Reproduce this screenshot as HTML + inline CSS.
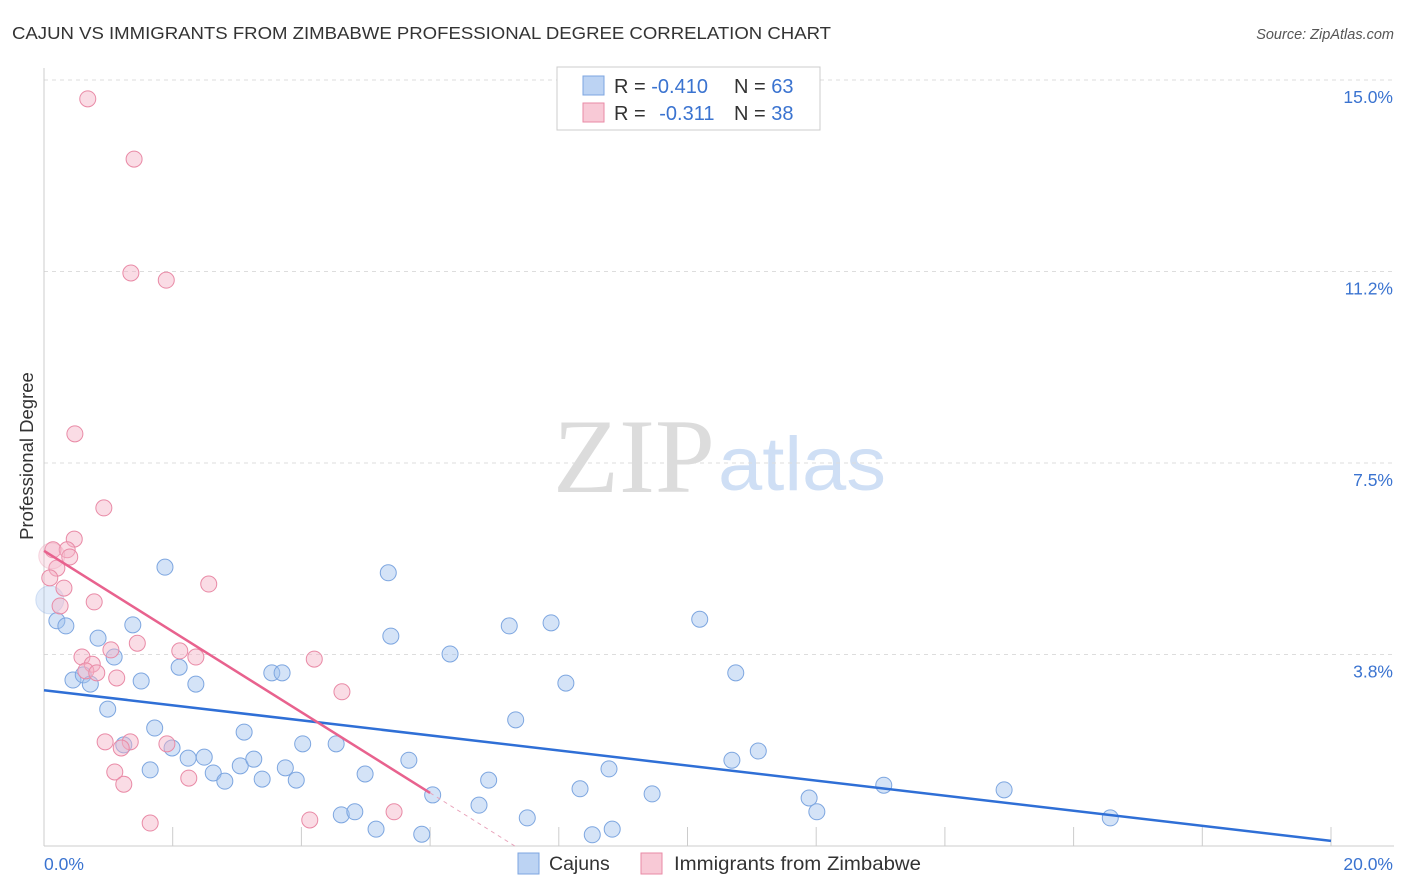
<!DOCTYPE html>
<html><head><meta charset="utf-8"><style>
body{margin:0;background:#fff;font-family:"Liberation Sans",sans-serif}
svg{display:block}
</style></head><body>
<svg id="c" width="1406" height="892">
<text x="12" y="39" font-size="17.5" fill="#333" textLength="819" lengthAdjust="spacingAndGlyphs">CAJUN VS IMMIGRANTS FROM ZIMBABWE PROFESSIONAL DEGREE CORRELATION CHART</text>
<text x="1394" y="39" font-size="14.5" fill="#555" font-style="italic" text-anchor="end">Source: ZipAtlas.com</text>
<text x="33" y="456" font-size="18.5" fill="#333" text-anchor="middle" transform="rotate(-90 33 456)">Professional Degree</text>
<g>
<text x="553" y="492" font-size="106" font-family="Liberation Serif,serif" fill="#dcdcdc" textLength="162" lengthAdjust="spacingAndGlyphs">ZIP</text>
<text x="718" y="490" font-size="76" fill="#cfdff5" textLength="168" lengthAdjust="spacingAndGlyphs">atlas</text>
</g>
<g id="grid"></g><g id="axes"></g><g id="pts"></g><g id="lines"></g>
<g>
<rect x="557" y="67" width="263" height="63" fill="#fff" stroke="#ccc"/>
<rect x="583" y="76" width="21" height="19" fill="#bcd3f3" stroke="#7da6e0"/>
<rect x="583" y="103" width="21" height="19" fill="#f8c9d6" stroke="#e98aa6"/>
<text x="614" y="93" font-size="20" fill="#333">R = <tspan fill="#3a73d0">-0.410</tspan></text>
<text x="734" y="93" font-size="20" fill="#333">N = <tspan fill="#3a73d0">63</tspan></text>
<text x="614" y="120" font-size="20" fill="#333">R = <tspan fill="#3a73d0" dx="8">-0.311</tspan></text>
<text x="734" y="120" font-size="20" fill="#333">N = <tspan fill="#3a73d0">38</tspan></text>
</g>
<g>
<rect x="518" y="853" width="21" height="21" fill="#bcd3f3" stroke="#7da6e0"/>
<text x="549" y="870" font-size="19.5" fill="#333">Cajuns</text>
<rect x="641" y="853" width="21" height="21" fill="#f8c9d6" stroke="#e98aa6"/>
<text x="674" y="870" font-size="19.5" fill="#333" textLength="247" lengthAdjust="spacingAndGlyphs">Immigrants from Zimbabwe</text>
</g>
</svg>
<script>
const yTicks=[3.75,7.5,11.25,15];
const yTickLabels=["3.8%","7.5%","11.2%","15.0%"];
const blueX=[0.20,0.34,0.45,0.61,0.72,0.84,0.99,1.09,1.24,1.38,1.51,1.65,1.72,1.88,1.99,2.10,2.24,2.36,2.49,2.63,2.81,3.05,3.11,3.26,3.39,3.54,3.70,3.75,3.92,4.02,4.54,4.62,4.83,4.99,5.16,5.35,5.39,5.67,5.87,6.04,6.31,6.76,6.91,7.23,7.33,7.51,7.88,8.11,8.33,8.52,8.78,8.83,9.45,10.19,10.69,10.75,11.10,11.89,12.01,13.05,14.92,16.57,0.09];
const blueY=[4.41,4.31,3.25,3.35,3.17,4.07,2.68,3.70,1.98,4.33,3.23,1.49,2.31,5.46,1.92,3.50,1.72,3.17,1.74,1.43,1.27,1.57,2.23,1.70,1.31,3.39,3.39,1.53,1.29,2.00,2.00,0.61,0.67,1.41,0.33,5.35,4.11,1.68,0.23,1.00,3.76,0.80,1.29,4.31,2.47,0.55,4.37,3.19,1.12,0.22,1.51,0.33,1.02,4.44,1.68,3.39,1.86,0.94,0.67,1.19,1.10,0.55,4.82];
const pinkX=[0.68,1.40,1.35,1.90,0.48,0.93,0.47,0.14,0.36,0.40,0.20,0.09,0.31,2.56,0.78,0.25,1.45,1.04,2.11,0.59,2.36,4.20,0.75,0.65,0.82,1.13,4.63,1.34,0.95,1.91,1.20,1.10,2.25,1.24,1.65,4.13,5.44,0.12];
const pinkY=[14.63,13.45,11.22,11.08,8.07,6.62,6.01,5.80,5.80,5.66,5.44,5.25,5.05,5.13,4.78,4.70,3.97,3.84,3.82,3.70,3.70,3.66,3.56,3.43,3.39,3.29,3.02,2.04,2.04,2.00,1.92,1.45,1.33,1.21,0.45,0.51,0.67,5.68];
const blueLine=[3.05,-0.1475];
const pinkLine=[5.78,-0.79];
const X=v=>44+v*64.35, Y=v=>846-v*51.07;
const NS="http://www.w3.org/2000/svg";
function mk(p,t,a){const e=document.createElementNS(NS,t);for(const k in a)e.setAttribute(k,a[k]);p.appendChild(e);return e;}
const grid=document.getElementById('grid'),axes=document.getElementById('axes'),pts=document.getElementById('pts'),lines=document.getElementById('lines');
yTicks.forEach((t,i)=>{
 const l=mk(grid,'line',{x1:44,x2:1394,y1:Y(t),y2:Y(t),stroke:'#ddd','stroke-dasharray':'4,4'});
 
 
 const tx=mk(axes,'text',{x:1393,y:Y(t)+23,'font-size':17.5,fill:'#3a73d0','text-anchor':'end'});
 tx.textContent=yTickLabels[i];
 
 
});
mk(axes,'line',{x1:44,x2:44,y1:68,y2:846,stroke:'#ccc'});
mk(axes,'line',{x1:44,x2:1394,y1:846,y2:846,stroke:'#ccc'});
for(let i=1;i<=10;i++){const t=mk(axes,'line',{x1:X(i*2),x2:X(i*2),y1:827,y2:846,stroke:'#ccc'});
 
 }
const x0=mk(axes,'text',{x:44,y:870,'font-size':17.5,fill:'#3a73d0'});x0.textContent='0.0%';


const x1=mk(axes,'text',{x:1393,y:870,'font-size':17.5,fill:'#3a73d0','text-anchor':'end'});x1.textContent='20.0%';


blueX.forEach((v,i)=>{const big=i==blueX.length-1;const c=mk(pts,'circle',{cx:X(v),cy:Y(blueY[i]),r:big?14:8,fill:big?'rgba(160,192,238,0.3)':'rgba(160,192,238,0.45)',stroke:big?'rgba(125,166,224,0.3)':'#7da6e0','stroke-width':1});
 
 });
pinkX.forEach((v,i)=>{const big=i==pinkX.length-1;const c=mk(pts,'circle',{cx:X(v),cy:Y(pinkY[i]),r:big?13:8,fill:big?'rgba(244,178,198,0.3)':'rgba(244,178,198,0.45)',stroke:big?'rgba(233,138,166,0.3)':'#e98aa6','stroke-width':1});
 
 });
const bl=mk(lines,'line',{x1:X(0),y1:Y(blueLine[0]),x2:X(20),y2:Y(blueLine[0]+blueLine[1]*20),stroke:'#2f6fd6','stroke-width':2.5});


const pl=mk(lines,'line',{x1:X(0),y1:Y(pinkLine[0]),x2:X(6),y2:Y(pinkLine[0]+pinkLine[1]*6),stroke:'#e8628e','stroke-width':2.5});


const xe=-pinkLine[0]/pinkLine[1];
const pd=mk(lines,'line',{x1:X(6),y1:Y(pinkLine[0]+pinkLine[1]*6),x2:X(xe),y2:Y(0),stroke:'#e8a0b8','stroke-width':1,'stroke-dasharray':'4,4'});


</script>
</body></html>
